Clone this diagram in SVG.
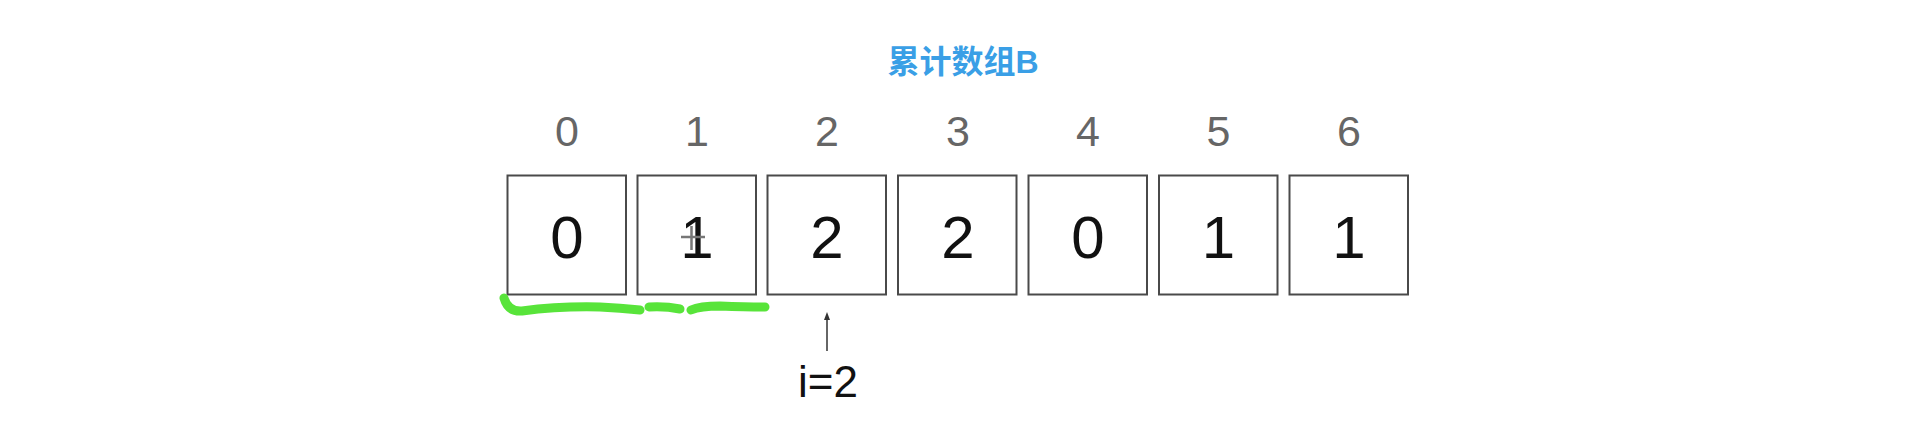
<svg xmlns="http://www.w3.org/2000/svg" width="1924" height="440" viewBox="0 0 1924 440">
<style>
.box{fill:#fff;stroke:#4a4a4a;stroke-width:2}
.val{font-family:"Liberation Sans",Arial,sans-serif;font-size:60px;fill:#111;text-anchor:middle}
.idx{font-family:"Liberation Sans",Arial,sans-serif;font-size:43px;fill:#666;text-anchor:middle}
.title{font-family:"Liberation Sans","Noto Sans CJK SC",sans-serif;font-size:32px;font-weight:bold;fill:#3a9fe6;text-anchor:middle}
.lbl{font-family:"Liberation Sans",Arial,sans-serif;font-size:44px;fill:#111;text-anchor:middle}
.hl{fill:none;stroke:#58e43a;stroke-width:9;stroke-linecap:round;stroke-linejoin:round}
</style>
<defs>
<marker id="ah" markerWidth="8" markerHeight="8" refX="4" refY="4" orient="auto" markerUnits="userSpaceOnUse">
<path d="M0,1 L8,4 L0,7 Z" fill="#333"/>
</marker>
</defs>
<rect width="1924" height="440" fill="#fff"/>
<text class="title" x="963" y="73">累计数组B</text>
<g id="cell0"><text class="idx" x="567" y="146">0</text><rect class="box" x="507.5" y="175.5" width="118.5" height="119"/><text class="val" x="567" y="258">0</text></g>
<g id="cell1"><text class="idx" x="697" y="146">1</text><rect class="box" x="637.5" y="175.5" width="118.5" height="119"/><text class="val" x="697" y="258">1</text><path d="M681,237 H705 M691.5,226 V250" stroke="#777" stroke-width="2.5" fill="none"/></g>
<g id="cell2"><text class="idx" x="827" y="146">2</text><rect class="box" x="767.5" y="175.5" width="118.5" height="119"/><text class="val" x="827" y="258">2</text></g>
<g id="cell3"><text class="idx" x="958" y="146">3</text><rect class="box" x="898" y="175.5" width="118.5" height="119"/><text class="val" x="958" y="258">2</text></g>
<g id="cell4"><text class="idx" x="1088" y="146">4</text><rect class="box" x="1028.5" y="175.5" width="118.5" height="119"/><text class="val" x="1088" y="258">0</text></g>
<g id="cell5"><text class="idx" x="1218.5" y="146">5</text><rect class="box" x="1159" y="175.5" width="118.5" height="119"/><text class="val" x="1218.5" y="258">1</text></g>
<g id="cell6"><text class="idx" x="1349" y="146">6</text><rect class="box" x="1289.5" y="175.5" width="118.5" height="119"/><text class="val" x="1349" y="258">1</text></g>
<g id="highlight">
<path class="hl" d="M504,298 Q508,312 522,311 Q560,306 600,307 Q620,308 640,310"/>
<path class="hl" d="M649,307 Q665,306 680,309"/>
<path class="hl" d="M691,310 Q700,306 720,306 Q745,307 765,307"/>
</g>
<g id="connectors">
<line x1="827" y1="351" x2="827" y2="316" stroke="#333" stroke-width="1.5" marker-end="url(#ah)"/>
</g>
<g id="pointer"><text class="lbl" x="828" y="397">i=2</text></g>
</svg>
